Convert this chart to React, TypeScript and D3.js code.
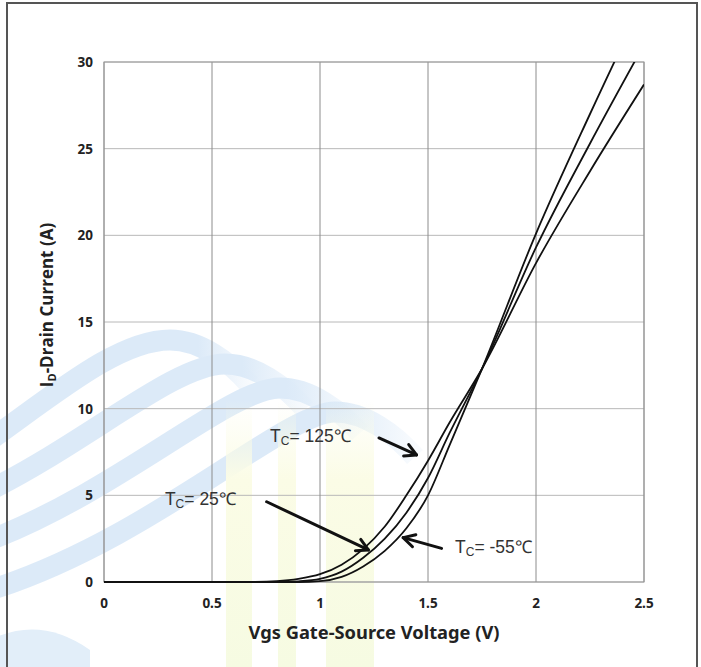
import React from "react";
import * as d3 from "d3";

// ---- data ----
const xTicks = [0, 0.5, 1, 1.5, 2, 2.5];
const xTickLabels = ["0", "0.5", "1", "1.5", "2", "2.5"];
const yTicks = [0, 5, 10, 15, 20, 25, 30];
const yTickLabels = ["0", "5", "10", "15", "20", "25", "30"];

const v125 = [0, 0.5, 0.7, 0.8, 0.9, 1.0, 1.1, 1.2, 1.3, 1.4, 1.5, 1.6, 1.75, 2.0, 2.25, 2.5];
const i125 = [0, 0, 0.01, 0.05, 0.18, 0.45, 1.0, 1.9, 3.2, 5.0, 7.0, 9.2, 12.3, 18.4, 23.7, 28.7];

const v25 = [0, 0.5, 0.8, 0.9, 1.0, 1.1, 1.2, 1.3, 1.4, 1.5, 1.6, 1.75, 2.0, 2.25, 2.5];
const i25 = [0, 0, 0, 0.04, 0.18, 0.6, 1.4, 2.5, 4.0, 6.0, 8.6, 12.3, 19.3, 25.3, 31.0];

const vM55 = [0, 0.5, 0.9, 1.0, 1.1, 1.2, 1.3, 1.4, 1.5, 1.6, 1.75, 2.0, 2.25, 2.5];
const iM55 = [0, 0, 0, 0.05, 0.3, 0.9, 1.8, 3.1, 5.0, 7.9, 12.3, 20.1, 27.0, 33.6];

const annLabels = ["125℃", "25℃", "-55℃"];
const annLabelPos = [[0.769, 8.1], [0.282, 4.44], [1.625, 1.67]];
const annArrowFrom = [[1.273, 8.31], [0.753, 4.63], [1.563, 1.94]];
const annArrowTo = [[1.447, 7.33], [1.224, 1.85], [1.385, 2.56]];

const W = 701, H = 667;
const M = { left: 104, right: 644, top: 62, bottom: 582 };

export default function App() {
  const x = d3.scaleLinear().domain([0, 2.5]).range([M.left, M.right]);
  const y = d3.scaleLinear().domain([0, 30]).range([M.bottom, M.top]);
  const line = d3
    .line<[number, number]>()
    .x((d) => x(d[0]))
    .y((d) => y(d[1]))
    .curve(d3.curveMonotoneX);
  const series = [
    v125.map((v, i) => [v, i125[i]] as [number, number]),
    v25.map((v, i) => [v, i25[i]] as [number, number]),
    vM55.map((v, i) => [v, iM55[i]] as [number, number]),
  ];

  const arrow = (k: number) => {
    const x1 = x(annArrowFrom[k][0]), y1 = y(annArrowFrom[k][1]);
    const x2 = x(annArrowTo[k][0]), y2 = y(annArrowTo[k][1]);
    const a = Math.atan2(y2 - y1, x2 - x1);
    const L = 13, s = 0.5;
    const p1 = [x2 - L * Math.cos(a - s), y2 - L * Math.sin(a - s)];
    const p2 = [x2 - L * Math.cos(a + s), y2 - L * Math.sin(a + s)];
    return (
      <g key={"ar" + k} stroke="#111" strokeWidth={3} fill="none" strokeLinecap="round" strokeLinejoin="round">
        <line x1={x1} y1={y1} x2={x2} y2={y2} />
        <polyline points={`${p1[0]},${p1[1]} ${x2},${y2} ${p2[0]},${p2[1]}`} />
      </g>
    );
  };

  const bands = [0, 1, 2, 3];
  const boldFont = "'Noto Sans', 'Liberation Sans', Arial, sans-serif";

  return (
    <svg width={W} height={H} style={{ position: "absolute", left: 0, top: 0, background: "#fff" }}
      fontFamily="'Liberation Sans', Arial, sans-serif">
      <defs>
        <linearGradient id="ystripe" x1="0" y1="0" x2="0" y2="1">
          <stop offset="0" stopColor="#fbfce6" stopOpacity="0" />
          <stop offset="0.3" stopColor="#fbfce6" stopOpacity="1" />
          <stop offset="1" stopColor="#f6fbe2" stopOpacity="1" />
        </linearGradient>
        <linearGradient id="bandfade" x1="0" y1="0" x2="1" y2="0">
          <stop offset="0" stopColor="#dceaf8" stopOpacity="1" />
          <stop offset="0.8" stopColor="#dceaf8" stopOpacity="1" />
          <stop offset="1" stopColor="#dceaf8" stopOpacity="0.2" />
        </linearGradient>
        <clipPath id="plotclip">
          <rect x={M.left} y={M.top} width={M.right - M.left} height={M.bottom - M.top + 2} />
        </clipPath>
      </defs>
      <rect x={0} y={0} width={W} height={H} fill="#fff" />
      {/* watermark */}
      <g>
        {bands.map((b) => {
          const cx = 170 + 55 * b, cy = 340 + 24 * b, ly = 440 + 50 * b;
          return (
            <path key={b}
              d={`M -10 ${ly} C ${60 + 30 * b} ${ly - 50}, ${cx - 50} ${cy}, ${cx} ${cy} C ${cx + 30} ${cy}, ${cx + 60} ${cy + 22}, ${cx + 80} ${cy + 45}`}
              stroke="url(#bandfade)" strokeWidth={21} fill="none" />
          );
        })}
        <path d="M -10 640 Q 40 615 90 650 L 90 667 L -10 667 Z" fill="#e2eef9" />
        <rect x={226} y={400} width={26} height={267} fill="url(#ystripe)" />
        <rect x={278} y={400} width={18} height={267} fill="url(#ystripe)" />
        <rect x={326} y={400} width={48} height={267} fill="url(#ystripe)" />
      </g>
      {/* outer frame */}
      <rect x={7} y={3} width={690} height={700} fill="none" stroke="#555" strokeWidth={2} />
      {/* grid */}
      {yTicks.map((t) => (
        <line key={"gy" + t} x1={M.left} x2={M.right} y1={y(t)} y2={y(t)} stroke="#b8b8b8" strokeWidth={1} />
      ))}
      {xTicks.map((t) => (
        <line key={"gx" + t} x1={x(t)} x2={x(t)} y1={M.top} y2={M.bottom} stroke="#8c8c8c" strokeWidth={1} />
      ))}
      <rect x={M.left} y={M.top} width={M.right - M.left} height={M.bottom - M.top} fill="none" stroke="#999" strokeWidth={1} />
      {/* curves */}
      <g clipPath="url(#plotclip)">
        {series.map((s, k) => (
          <path key={"s" + k} d={line(s) || ""} fill="none" stroke="#111" strokeWidth={1.8} />
        ))}
      </g>
      {/* tick labels */}
      {yTicks.map((t, k) => (
        <text key={"ty" + t} x={93} y={y(t) + 5} textAnchor="end" fontSize={13.5} fontWeight="bold" fill="#222" fontFamily={boldFont}>
          {yTickLabels[k]}
        </text>
      ))}
      {xTicks.map((t, k) => (
        <text key={"tx" + t} x={x(t)} y={608} textAnchor="middle" fontSize={13.5} fontWeight="bold" fill="#222" fontFamily={boldFont}>
          {xTickLabels[k]}
        </text>
      ))}
      {/* axis titles */}
      <text x={374} y={639} textAnchor="middle" fontSize={17} fontWeight="bold" fill="#222"
        fontFamily={boldFont} textLength={251} lengthAdjust="spacingAndGlyphs">
        Vgs Gate-Source Voltage (V)
      </text>
      <text transform={`translate(53, 305) rotate(-90)`} textAnchor="middle" fontSize={17} fontWeight="bold" fill="#222"
        fontFamily="'Open Sans', 'Noto Sans', sans-serif">
        I<tspan fontSize={11} dy={3}>D</tspan><tspan dy={-3}>-Drain Current (A)</tspan>
      </text>
      {/* annotations */}
      {annLabels.map((l, k) => (
        <text key={"al" + k} x={x(annLabelPos[k][0])} y={y(annLabelPos[k][1])} fontSize={17.5} fill="#333">
          T<tspan fontSize={12} dy={3}>C</tspan><tspan dy={-3}>= {l}</tspan>
        </text>
      ))}
      {[0, 1, 2].map((k) => arrow(k))}
    </svg>
  );
}
